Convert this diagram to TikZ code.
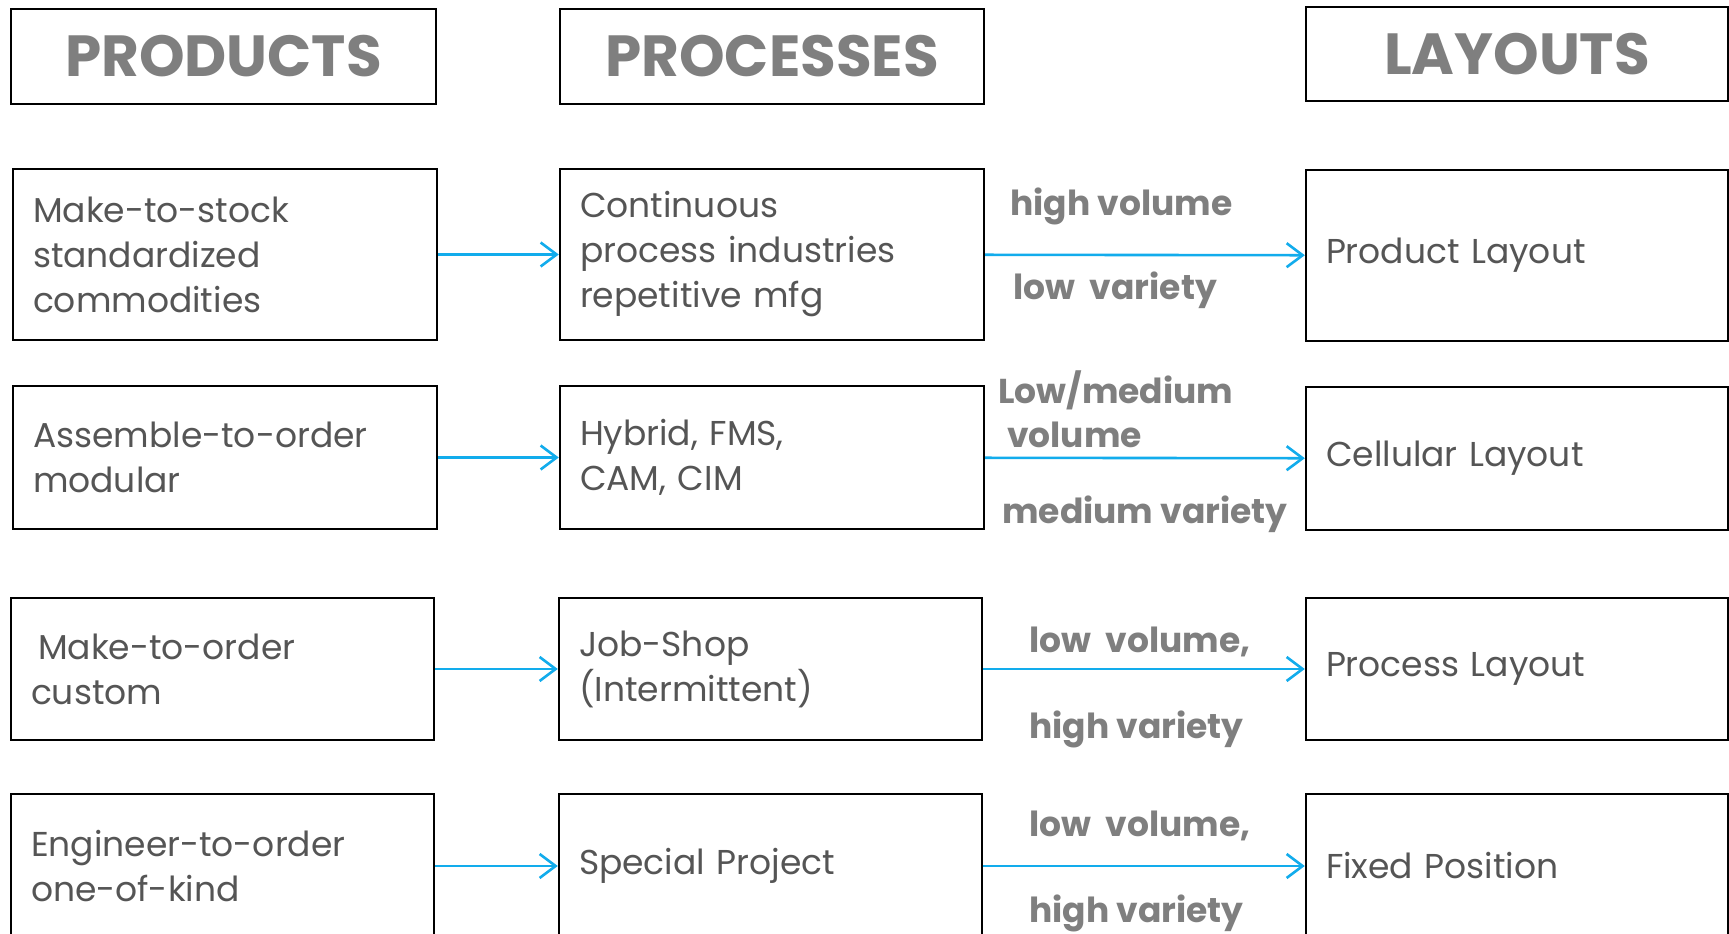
\documentclass[tikz,border=0pt]{standalone}
\usepackage{fontspec}
\setmainfont{Poppins}
\usetikzlibrary{arrows.meta, positioning}
\definecolor{headgray}{HTML}{7F7F7F}
\definecolor{bodygray}{HTML}{555555}
\definecolor{flowblue}{HTML}{12ACEC}
\tikzstyle{headbox} = [draw=black, line width=2.4pt, rectangle, minimum height=95pt, text=headgray, font=\fontsize{58}{60}\selectfont\bfseries]
\tikzstyle{stagebox} = [draw=black, line width=2.4pt, rectangle, inner xsep=20pt, align=left, text=bodygray, font=\fontsize{34.5}{45}\selectfont]
\tikzstyle{flow} = [draw=flowblue, line width=2.6pt, -{Straight Barb[length=16pt, width=24pt, line width=2.6pt]}]
\tikzstyle{tag} = [anchor=west, inner sep=0pt, text=headgray, align=left, font=\fontsize{34.5}{44}\selectfont\bfseries]

\begin{document}
\begin{tikzpicture}[x=1pt, y=-1pt]
	\fill[white] (0,0) rectangle (1729,934);
	\clip (0,0) rectangle (1729,934);
	% column titles
	\node [headbox, minimum width=425pt] (prodhead) at (223.5,56.5) {PRODUCTS};
	\node [headbox, minimum width=424pt] (prochead) at (772,56.5) {PROCESSES};
	\node [headbox, minimum width=422pt, minimum height=94pt] (layhead) at (1517,54) {LAYOUTS};
	% first row
	\node [stagebox, text width=384pt, minimum height=171pt] (stock) at (225,254.5) {Make-to-stock\\standardized\\commodities};
	\node [stagebox, text width=384pt, minimum height=171pt] (continuous) at (772,254.5) {Continuous\\process industries\\repetitive mfg};
	\node [stagebox, text width=382pt, minimum height=171pt] (product) at (1517,255.5) {Product Layout};
	% second row
	\node [stagebox, text width=384pt, minimum height=143pt] (assemble) at (225,457.5) {Assemble-to-order\\modular};
	\node [stagebox, text width=384pt, minimum height=143pt] (hybrid) at (772,457.5) {Hybrid, FMS,\\CAM, CIM};
	\node [stagebox, text width=382pt, minimum height=143pt] (cellular) at (1517,458.5) {Cellular Layout};
	% third row
	\node [stagebox, text width=383pt, minimum height=142pt] (order) at (222.5,669) {\hspace{7pt}Make-to-order\\custom};
	\node [stagebox, text width=383pt, minimum height=142pt] (jobshop) at (770.5,669) {Job-Shop\\(Intermittent)};
	\node [stagebox, text width=382pt, minimum height=142pt] (process) at (1517,669) {Process Layout};
	% fourth row
	\node [stagebox, text width=383pt, minimum height=144pt] (engineer) at (222.5,866) {Engineer-to-order\\one-of-kind};
	\node [stagebox, text width=383pt, minimum height=144pt] (special) at (770.5,866) {Special Project};
	\node [stagebox, text width=382pt, minimum height=144pt] (fixed) at (1517,866) {Fixed Position};
	% connectors
	\draw [flow] (stock) -- (continuous);
	\draw [flow] (continuous) -- (product);
	\draw [flow] (assemble) -- (hybrid);
	\draw [flow] (hybrid) -- (cellular);
	\draw [flow] (order) -- (jobshop);
	\draw [flow] (jobshop) -- (process);
	\draw [flow] (engineer) -- (special);
	\draw [flow] (special) -- (fixed);
	% volume / variety tags
	\node [tag] (vol1) at (1010,206) {high volume};
	\node [tag] (var1) at (1013,290) {low\ \ variety};
	\node [tag] (vol2) at (998,409) {Low/medium\\\hspace{9pt}volume};
	\node [tag] (var2) at (1002,514) {medium variety};
	\node [tag] (vol3) at (1029,642) {low\ \ volume,};
	\node [tag] (var3) at (1029,729) {high variety};
	\node [tag] (vol4) at (1029,826) {low\ \ volume,};
	\node [tag] (var4) at (1029,913) {high variety};
\end{tikzpicture}
\end{document}
